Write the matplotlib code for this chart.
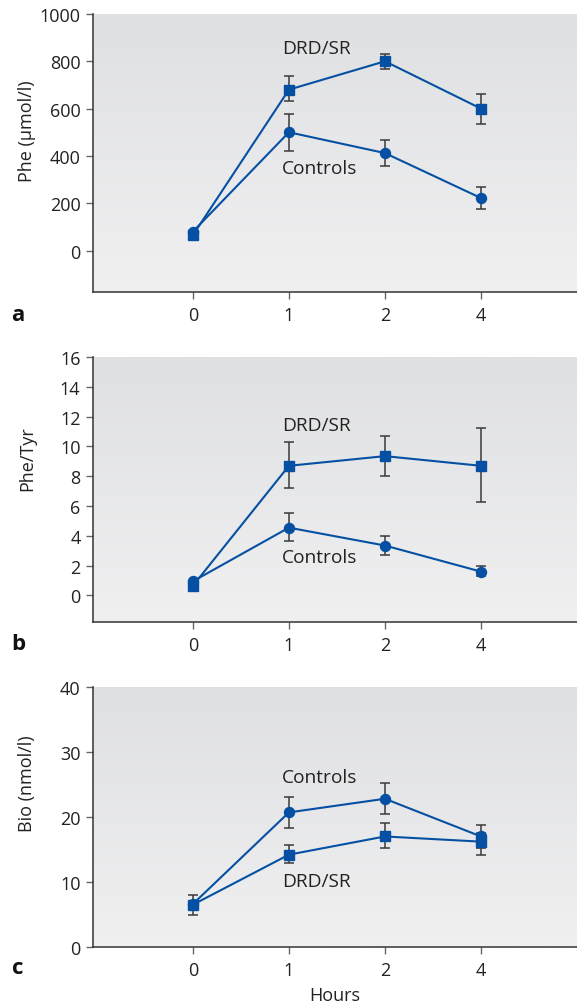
import matplotlib
matplotlib.use("Agg")
import matplotlib.pyplot as plt
import numpy as np
from matplotlib.colors import LinearSegmentedColormap

plt.rcParams['font.family'] = ['Open Sans', 'DejaVu Sans']

hours = ['0', '1', '2', '4']

# panel a: Phe (umol/l)
phe_drd = [65, 680, 800, 600]
phe_drd_lo = [65, 634, 767, 533]
phe_drd_hi = [65, 736, 829, 662]
phe_ctl = [80, 500, 412, 222]
phe_ctl_lo = [80, 419, 356, 175]
phe_ctl_hi = [80, 577, 468, 267]

# panel b: Phe/Tyr ratio
ratio_drd = [0.65, 8.7, 9.35, 8.7]
ratio_drd_lo = [0.65, 7.18, 8.0, 6.26]
ratio_drd_hi = [0.65, 10.3, 10.7, 11.25]
ratio_ctl = [0.95, 4.55, 3.35, 1.6]
ratio_ctl_lo = [0.95, 3.65, 2.7, 1.3]
ratio_ctl_hi = [0.95, 5.5, 4.0, 1.95]

# panel c: Bio (nmol/l)
bio_drd = [6.5, 14.2, 17.0, 16.2]
bio_drd_lo = [4.9, 12.9, 15.2, 14.2]
bio_drd_hi = [8.0, 15.7, 19.0, 17.5]
bio_ctl = [6.6, 20.7, 22.8, 17.0]
bio_ctl_lo = [6.6, 18.35, 20.5, 15.3]
bio_ctl_hi = [6.6, 23.0, 25.2, 18.7]

blue = '#0550a2'
err_col = '#3a3a3a'
spine_col = '#333333'
txt_col = '#222222'
fs = 13
fs_note = 13.8
grad = LinearSegmentedColormap.from_list('bg', ['#f0f0f1', '#dfe0e2'])


def draw_series(ax, y, lo, hi, marker):
    x = np.arange(len(y))
    y = np.asarray(y)
    yerr = [y - np.asarray(lo), np.asarray(hi) - y]
    ax.errorbar(x, y, yerr=yerr, fmt='none', ecolor=err_col, elinewidth=1.1,
                capsize=3.5, capthick=1.1, zorder=3)
    ax.plot(x, y, color=blue, lw=1.5, marker=marker, ms=7.2, mfc=blue,
            mec=blue, zorder=4)


def style_axes(ax, ylim, yticks, ylabel, label_y, letter):
    g = np.linspace(0, 1, 256).reshape(-1, 1)
    ax.imshow(g, cmap=grad, aspect='auto', extent=[0, 1, 0, 1],
              transform=ax.transAxes, origin='lower', zorder=0)
    ax.set_xlim(-1.04, 4.0)
    ax.set_ylim(*ylim)
    ax.set_yticks(yticks)
    ax.set_xticks(np.arange(len(hours)))
    ax.set_xticklabels(hours)
    for s in ['top', 'right']:
        ax.spines[s].set_visible(False)
    for s in ['left', 'bottom']:
        ax.spines[s].set_color(spine_col)
        ax.spines[s].set_linewidth(1.1)
    ax.tick_params(direction='out', length=5, width=1.0, color='#666666',
                   labelsize=fs, labelcolor=txt_col, pad=4)
    ax.tick_params(axis='x', pad=5)
    ax.set_ylabel(ylabel, fontsize=fs, color=txt_col)
    ax.yaxis.set_label_coords(-0.118, label_y)
    ax.text(-0.155, -0.08, letter, transform=ax.transAxes, fontsize=16,
            fontweight='bold', ha='center', va='center', color='#111111')


fig = plt.figure(figsize=(5.77, 10.04), dpi=100)
ax_a = fig.add_axes([0.1612, 0.7082, 0.8388, 0.2769])
ax_b = fig.add_axes([0.1612, 0.3795, 0.8388, 0.2639])
ax_c = fig.add_axes([0.1612, 0.0558, 0.8388, 0.2590])

# a
draw_series(ax_a, phe_ctl, phe_ctl_lo, phe_ctl_hi, 'o')
draw_series(ax_a, phe_drd, phe_drd_lo, phe_drd_hi, 's')
style_axes(ax_a, (-175, 1000), [0, 200, 400, 600, 800, 1000],
           'Phe (µmol/l)', 0.583, 'a')
ax_a.text(0.93, 858, 'DRD/SR', fontsize=fs_note, color=txt_col, va='center')
ax_a.text(0.93, 348, 'Controls', fontsize=fs_note, color=txt_col, va='center')

# b
draw_series(ax_b, ratio_ctl, ratio_ctl_lo, ratio_ctl_hi, 'o')
draw_series(ax_b, ratio_drd, ratio_drd_lo, ratio_drd_hi, 's')
style_axes(ax_b, (-1.78, 16), [0, 2, 4, 6, 8, 10, 12, 14, 16],
           'Phe/Tyr', 0.619, 'b')
ax_b.text(0.93, 11.45, 'DRD/SR', fontsize=fs_note, color=txt_col, va='center')
ax_b.text(0.93, 2.6, 'Controls', fontsize=fs_note, color=txt_col, va='center')

# c
draw_series(ax_c, bio_drd, bio_drd_lo, bio_drd_hi, 's')
draw_series(ax_c, bio_ctl, bio_ctl_lo, bio_ctl_hi, 'o')
style_axes(ax_c, (0, 40), [0, 10, 20, 30, 40],
           'Bio (nmol/l)', 0.63, 'c')
ax_c.text(0.93, 26.1, 'Controls', fontsize=fs_note, color=txt_col, va='center')
ax_c.text(0.93, 10.1, 'DRD/SR', fontsize=fs_note, color=txt_col, va='center')
ax_c.set_xlabel('Hours', fontsize=fs, color=txt_col, labelpad=5)

fig.savefig('out.png', dpi=100)
